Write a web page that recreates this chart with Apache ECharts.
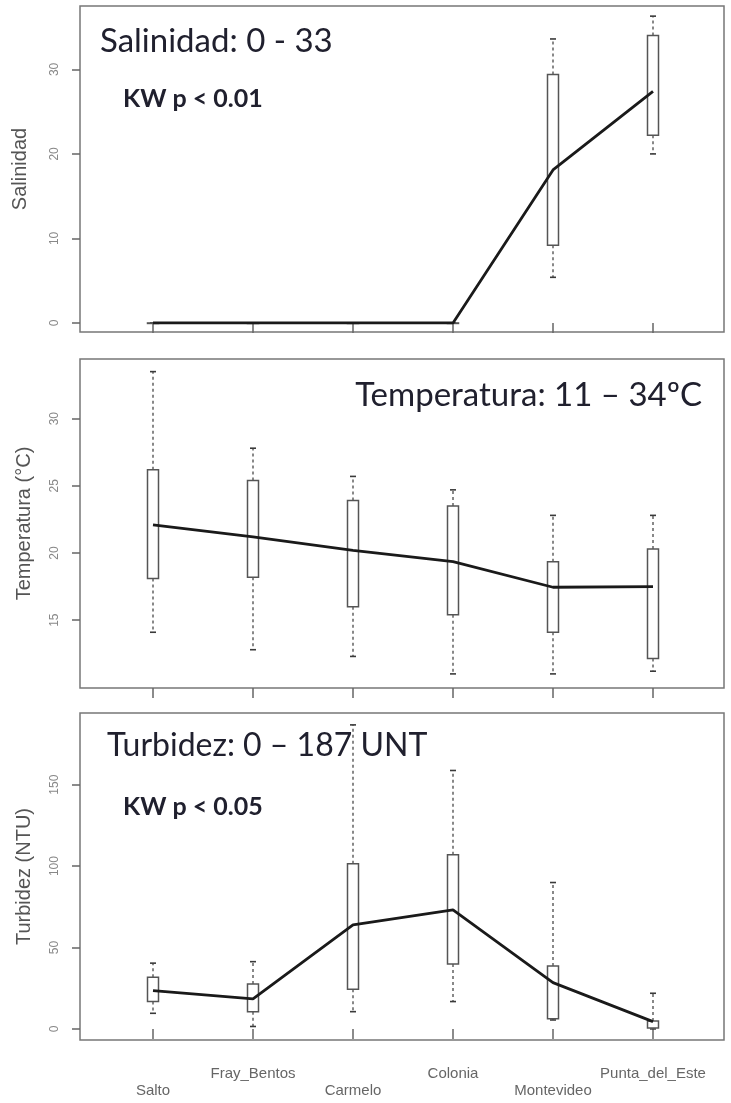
<!DOCTYPE html>
<html>
<head>
<meta charset="utf-8">
<script src="https://cdn.jsdelivr.net/npm/echarts@6/dist/echarts.min.js"></script>
<style>html,body{margin:0;padding:0;background:#fff;}#c{width:731px;height:1103px;}</style>
</head>
<body>
<div id="c"></div>
<script>
const categories = ['Salto', 'Fray_Bentos', 'Carmelo', 'Colonia', 'Montevideo', 'Punta_del_Este'];

// Salinidad
const salLow  = [0, 0, 0, 0, 5.4, 20.0];
const salQ1   = [0, 0, 0, 0, 9.2, 22.2];
const salMed  = [0, 0, 0, 0, 18.1, 27.4];
const salQ3   = [0, 0, 0, 0, 29.4, 34.0];
const salHigh = [0, 0, 0, 0, 33.6, 36.3];
const salTicks = [0, 10, 20, 30];

// Temperatura
const tmpLow  = [14.1, 12.8, 12.3, 11.0, 11.0, 11.2];
const tmpQ1   = [18.1, 18.2, 16.0, 15.4, 14.1, 12.15];
const tmpMed  = [22.1, 21.2, 20.2, 19.35, 17.45, 17.5];
const tmpQ3   = [26.2, 25.4, 23.9, 23.5, 19.35, 20.3];
const tmpHigh = [33.5, 27.8, 25.7, 24.7, 22.8, 22.8];
const tmpTicks = [15, 20, 25, 30];

// Turbidez
const turLow  = [9.6, 1.5, 10.6, 16.8, 5.5, 0.0];
const turQ1   = [16.8, 10.6, 24.4, 39.9, 6.2, 0.5];
const turMed  = [23.5, 18.4, 63.9, 73.1, 28.4, 4.5];
const turQ3   = [31.8, 27.6, 101.4, 106.9, 38.7, 4.8];
const turHigh = [40.4, 41.3, 186.7, 158.7, 89.9, 21.9];
const turTicks = [0, 50, 100, 150];

const panels = [
  { low: salLow, q1: salQ1, med: salMed, q3: salQ3, high: salHigh, ticks: salTicks,
    min: -1.07, max: 37.5, top: 6, height: 326, name: 'Salinidad', nameGap: 50 },
  { low: tmpLow, q1: tmpQ1, med: tmpMed, q3: tmpQ3, high: tmpHigh, ticks: tmpTicks,
    min: 9.95, max: 34.44, top: 359, height: 329, name: 'Temperatura (\u00b0C)', nameGap: 46 },
  { low: turLow, q1: turQ1, med: turMed, q3: turQ3, high: turHigh, ticks: turTicks,
    min: -6.8, max: 194, top: 713, height: 327, name: 'Turbidez (NTU)', nameGap: 46 }
];

function renderBox(params, api) {
  const x = api.value(0);
  const pLow = api.coord([x, api.value(1)]);
  const pQ1 = api.coord([x, api.value(2)]);
  const pQ3 = api.coord([x, api.value(4)]);
  const pHigh = api.coord([x, api.value(5)]);
  const cx = pQ1[0];
  const hw = 5.5, sw = 3;
  const wStyle = { stroke: '#3a3a3a', lineWidth: 1.2, lineDash: [3, 3] };
  const sStyle = { stroke: '#3a3a3a', lineWidth: 1.6 };
  return {
    type: 'group',
    children: [
      { type: 'line', shape: { x1: cx, y1: pQ3[1], x2: cx, y2: pHigh[1] }, style: wStyle },
      { type: 'line', shape: { x1: cx, y1: pQ1[1], x2: cx, y2: pLow[1] }, style: wStyle },
      { type: 'line', shape: { x1: cx - sw, y1: pHigh[1], x2: cx + sw, y2: pHigh[1] }, style: sStyle },
      { type: 'line', shape: { x1: cx - sw, y1: pLow[1], x2: cx + sw, y2: pLow[1] }, style: sStyle },
      { type: 'rect', shape: { x: cx - hw, y: pQ3[1], width: 2 * hw, height: Math.max(pQ1[1] - pQ3[1], 0.5) },
        style: { fill: '#fff', stroke: '#555', lineWidth: 1.5 } }
    ]
  };
}

const grid = [], xAxis = [], yAxis = [], series = [];
panels.forEach((p, k) => {
  grid.push({ left: 80, right: 7, top: p.top, height: p.height, show: true,
    borderColor: '#777', borderWidth: 1.5, backgroundColor: 'transparent' });
  xAxis.push({ gridIndex: k, type: 'value', show: false });
  yAxis.push({ gridIndex: k, type: 'value', show: false });
});
panels.forEach((p, k) => {
  const gi = 3 + k;
  grid.push({ left: 103, width: 600, top: p.top, height: p.height });
  xAxis.push({
    gridIndex: gi, type: 'category', data: categories, boundaryGap: true,
    axisLine: { show: false },
    axisTick: { show: true, alignWithLabel: true, length: 10, lineStyle: { color: '#666', width: 1.5 } },
    axisLabel: {
      show: k === 2, interval: 0, hideOverlap: false, margin: 26,
      formatter: (v, i) => (i % 2 === 0 ? '{lo|' + v + '}' : '{hi|' + v + '}'),
      rich: {
        lo: { fontFamily: 'Liberation Sans', fontSize: 15, color: '#666', padding: [17, 0, 0, 0] },
        hi: { fontFamily: 'Liberation Sans', fontSize: 15, color: '#666' }
      }
    },
    splitLine: { show: false }
  });
  yAxis.push({
    gridIndex: gi, type: 'value', min: p.min, max: p.max, offset: 23,
    axisLine: { show: false },
    axisTick: { show: true, length: 8, customValues: p.ticks, lineStyle: { color: '#666', width: 1.5 } },
    axisLabel: { rotate: 90, customValues: p.ticks, margin: 19, fontFamily: 'Liberation Sans',
      fontSize: 12, color: '#888' },
    splitLine: { show: false },
    name: p.name, nameLocation: 'middle', nameGap: p.nameGap,
    nameTextStyle: { fontFamily: 'Liberation Sans', fontSize: 20, color: '#555' }
  });
  series.push({
    type: 'custom', xAxisIndex: gi, yAxisIndex: gi, renderItem: renderBox,
    encode: { x: 0, y: [1, 2, 3, 4, 5] }, z: 2, silent: true,
    data: categories.map((c, i) => [i, p.low[i], p.q1[i], p.med[i], p.q3[i], p.high[i]])
  });
  series.push({
    type: 'line', xAxisIndex: gi, yAxisIndex: gi, data: p.med, z: 5, silent: true,
    showSymbol: false, symbol: 'none', clip: false,
    lineStyle: { color: '#1a1a1a', width: 2.8 }
  });
});

const titleFont = 'Lato, "Open Sans", sans-serif';
const txtColor = '#20202e';
const graphic = [
  { type: 'text', x: 100, y: 41, style: { text: 'Salinidad: 0 - 33', fontFamily: titleFont, fontSize: 33, fill: txtColor, align: 'left', verticalAlign: 'middle' } },
  { type: 'text', x: 123, y: 99, style: { text: 'KW p < 0.01', fontFamily: titleFont, fontSize: 25, fontWeight: 'bold', fill: txtColor, align: 'left', verticalAlign: 'middle' } },
  { type: 'text', x: 702, y: 395, style: { text: 'Temperatura: 11 \u2013 34\u00baC', fontFamily: titleFont, fontSize: 33, fill: txtColor, align: 'right', verticalAlign: 'middle' } },
  { type: 'text', x: 107, y: 746, style: { text: 'Turbidez: 0 \u2013 187 UNT', fontFamily: titleFont, fontSize: 32, fill: txtColor, align: 'left', verticalAlign: 'middle' } },
  { type: 'text', x: 123, y: 807, style: { text: 'KW p < 0.05', fontFamily: titleFont, fontSize: 25, fontWeight: 'bold', fill: txtColor, align: 'left', verticalAlign: 'middle' } }
];

const chart = echarts.init(document.getElementById('c'), null, { renderer: 'canvas' });
chart.setOption({ animation: false, backgroundColor: '#fff', grid, xAxis, yAxis, series, graphic });
</script>
</body>
</html>
